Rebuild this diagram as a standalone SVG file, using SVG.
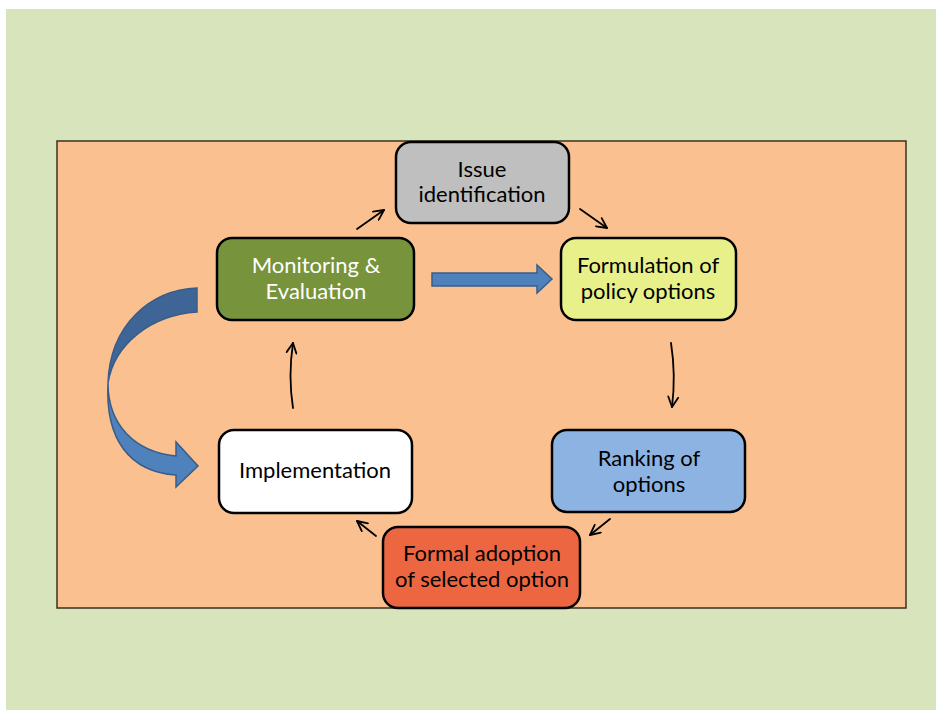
<svg xmlns="http://www.w3.org/2000/svg" width="936" height="711" viewBox="0 0 936 711">
<style>
.node rect{stroke:#000;stroke-width:2.5}
.node text{font-family:Lato,"Liberation Sans",sans-serif;font-size:22px;text-anchor:middle;fill:#000}
.conn path.thin{fill:none;stroke:#000;stroke-width:1.8;stroke-linecap:round}
.blk{fill:#4F81BD;stroke:#385D8A;stroke-width:1.5}
</style>
<defs>
<marker id="ah" viewBox="0 0 12 12" refX="11" refY="6" markerWidth="12" markerHeight="12" markerUnits="userSpaceOnUse" orient="auto">
<path d="M1,1 L11,6 L1,11" fill="none" stroke="#000" stroke-width="1.8" stroke-linecap="round" stroke-linejoin="round"/>
</marker>
</defs>
<rect x="0" y="0" width="936" height="711" fill="#fff"/>
<rect x="6" y="9" width="930" height="701" fill="#D8E4BC"/>
<rect x="57" y="141" width="849" height="467" fill="#FAC090" stroke="#3a3020" stroke-width="1.5"/>

<g class="conn">
<path class="thin" d="M357,229 L384,210" marker-end="url(#ah)"/>
<path class="thin" d="M580,209 L607,228" marker-end="url(#ah)"/>
<path class="thin" d="M671,343 Q676,375 672,407" marker-end="url(#ah)"/>
<path class="thin" d="M610,519 L590,535" marker-end="url(#ah)"/>
<path class="thin" d="M376,536 L357,521" marker-end="url(#ah)"/>
<path class="thin" d="M293,408 Q288,376 293,343" marker-end="url(#ah)"/>
<path class="blk" d="M432,273 L537,273 L537,265 L552,279 L537,293 L537,286 L432,286 Z"/>
<path class="blk" style="fill:#3E6595" d="M197,288 C150,290 110,325 108,383 C114,345 150,315 197,312 Z"/>
<path class="blk" d="M108,383 C108,425 135,452 176,456 L176,442 L198,466 L176,487 L176,475 C130,472 105,440 108,383 Z"/>
</g>

<g id="issue" class="node">
<rect x="396" y="142" width="173" height="81" rx="15" fill="#BFBFBF"/>
<text x="482" y="177">Issue</text>
<text x="482" y="202">identification</text>
</g>
<g id="monitoring" class="node">
<rect x="217" y="238" width="197" height="82" rx="15" fill="#77933C"/>
<text x="316" y="273" style="fill:#fff">Monitoring &amp;</text>
<text x="316" y="299" style="fill:#fff">Evaluation</text>
</g>
<g id="formulation" class="node">
<rect x="561" y="238" width="175" height="82" rx="15" fill="#E8F08A"/>
<text x="648" y="273">Formulation of</text>
<text x="648" y="299">policy options</text>
</g>
<g id="implementation" class="node">
<rect x="219" y="430" width="193" height="83" rx="15" fill="#FFFFFF"/>
<text x="315" y="478">Implementation</text>
</g>
<g id="ranking" class="node">
<rect x="552" y="430" width="193" height="82" rx="15" fill="#8DB3E2"/>
<text x="649" y="466">Ranking of</text>
<text x="649" y="492">options</text>
</g>
<g id="formal" class="node">
<rect x="383" y="527" width="197" height="81" rx="15" fill="#ED6642"/>
<text x="482" y="561">Formal adoption</text>
<text x="482" y="587">of selected option</text>
</g>
</svg>
